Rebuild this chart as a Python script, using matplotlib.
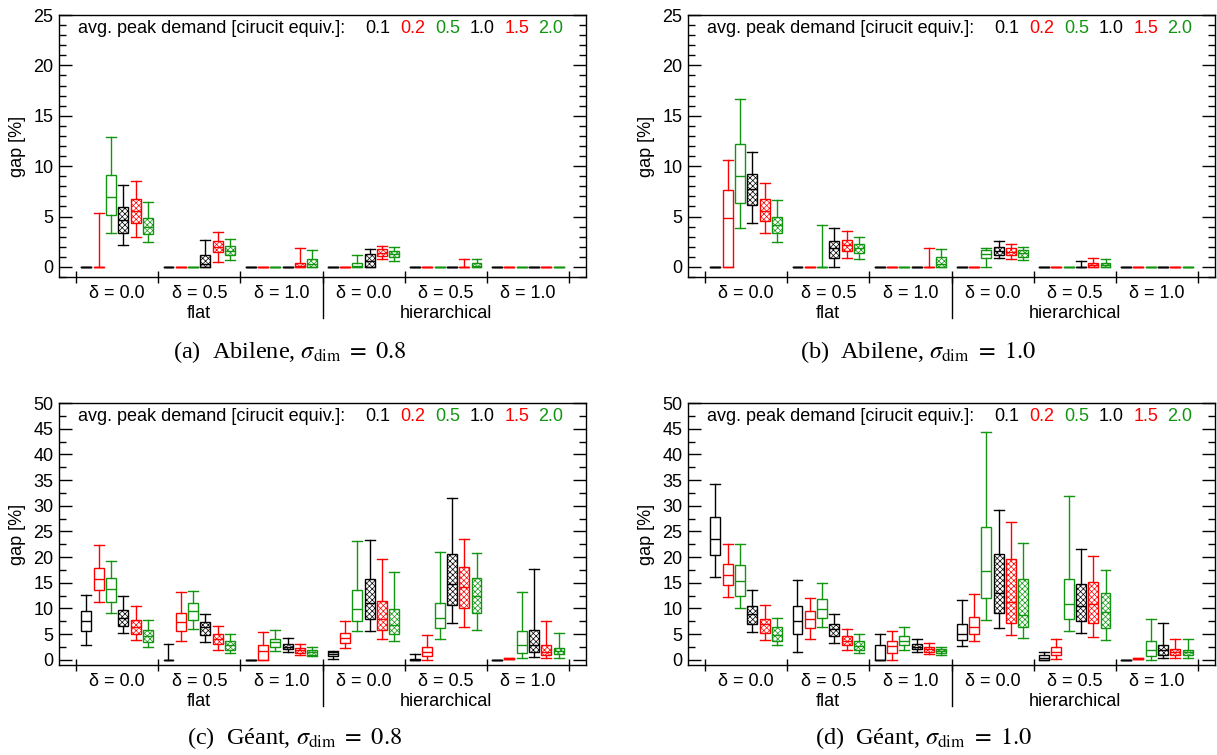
import matplotlib
matplotlib.use('Agg')
import matplotlib.pyplot as plt
from matplotlib import transforms
from matplotlib.ticker import MultipleLocator

plt.rcParams['font.family'] = 'Liberation Sans'
plt.rcParams['mathtext.fontset'] = 'stix'
plt.rcParams['hatch.linewidth'] = 0.5

GREEN = '#129612'
box_colors = ['black', 'red', GREEN, 'black', 'red', GREEN]
hatched = [False, False, False, True, True, True]
demand_labels = ['0.1', '0.2', '0.5', '1.0', '1.5', '2.0']
group_labels = ['δ = 0.0', 'δ = 0.5', 'δ = 1.0'] * 2
section_labels = ['flat', 'hierarchical']

# one row per box: (whisker low, q1, median, q3, whisker high)
# 6 groups (flat d=0/0.5/1, hierarchical d=0/0.5/1) x 6 demands
abilene_08 = [
    (0, 0, 0, 0, 0), (0, 0, 0, 0, 5.4), (3.4, 5.2, 6.9, 9.15, 12.85),
    (2.15, 3.4, 4.65, 5.95, 8.1), (3.0, 4.35, 5.55, 6.7, 8.5), (2.45, 3.25, 4.0, 4.9, 6.4),
    (0, 0, 0, 0, 0), (0, 0, 0, 0, 0), (0, 0, 0, 0, 0),
    (0, 0, 0.3, 1.15, 2.65), (0.5, 1.45, 2.0, 2.6, 3.5), (0.65, 1.15, 1.6, 2.05, 2.8),
    (0, 0, 0, 0, 0), (0, 0, 0, 0, 0), (0, 0, 0, 0, 0),
    (0, 0, 0, 0, 0), (0, 0, 0.1, 0.4, 1.9), (0, 0, 0.3, 0.75, 1.7),
    (0, 0, 0, 0, 0), (0, 0, 0, 0, 0), (0, 0, 0.1, 0.35, 1.2),
    (0, 0, 0.6, 1.25, 1.75), (0.75, 1.1, 1.4, 1.75, 2.1), (0.6, 1.0, 1.3, 1.6, 1.95),
    (0, 0, 0, 0, 0), (0, 0, 0, 0, 0), (0, 0, 0, 0, 0),
    (0, 0, 0, 0, 0), (0, 0, 0, 0, 0.8), (0, 0, 0.1, 0.35, 0.8),
    (0, 0, 0, 0, 0), (0, 0, 0, 0, 0), (0, 0, 0, 0, 0),
    (0, 0, 0, 0, 0), (0, 0, 0, 0, 0), (0, 0, 0, 0, 0),
]

abilene_10 = [
    (0, 0, 0, 0, 0), (0, 0, 4.9, 7.65, 10.6), (3.9, 6.3, 9.0, 12.2, 16.7),
    (4.4, 6.15, 7.75, 9.25, 11.4), (3.4, 4.55, 5.55, 6.7, 8.3), (2.45, 3.4, 4.2, 5.0, 6.6),
    (0, 0, 0, 0, 0), (0, 0, 0, 0, 0), (0, 0, 0, 0, 4.2),
    (0, 0.9, 1.85, 2.6, 3.9), (0.85, 1.6, 2.15, 2.65, 3.6), (0.8, 1.35, 1.85, 2.25, 3.0),
    (0, 0, 0, 0, 0), (0, 0, 0, 0, 0), (0, 0, 0, 0, 0),
    (0, 0, 0, 0, 0), (0, 0, 0, 0, 1.9), (0, 0, 0.3, 1.0, 1.75),
    (0, 0, 0, 0, 0), (0, 0, 0, 0, 0), (0, 0.85, 1.3, 1.65, 1.85),
    (0.85, 1.2, 1.6, 2.0, 2.6), (0.8, 1.15, 1.5, 1.85, 2.3), (0.7, 0.95, 1.35, 1.7, 2.0),
    (0, 0, 0, 0, 0), (0, 0, 0, 0, 0), (0, 0, 0, 0, 0),
    (0, 0, 0, 0, 0.6), (0, 0, 0.15, 0.35, 0.9), (0, 0, 0.15, 0.35, 0.8),
    (0, 0, 0, 0, 0), (0, 0, 0, 0, 0), (0, 0, 0, 0, 0),
    (0, 0, 0, 0, 0), (0, 0, 0, 0, 0), (0, 0, 0, 0, 0),
]

geant_08 = [
    (2.85, 5.6, 7.6, 9.6, 12.55), (11.2, 13.65, 15.8, 17.9, 22.4), (9.2, 11.3, 13.8, 15.9, 19.2),
    (5.2, 6.6, 8.1, 9.8, 12.35), (3.85, 5.0, 6.3, 7.75, 10.4), (2.6, 3.45, 4.55, 5.9, 7.8),
    (0, 0, 0, 0, 3.0), (3.6, 5.6, 7.35, 9.15, 13.25), (6.0, 7.8, 9.5, 11.05, 13.4),
    (3.5, 4.9, 6.3, 7.3, 8.85), (2.0, 3.0, 4.15, 5.0, 6.5), (1.3, 1.95, 2.9, 3.75, 5.0),
    (0, 0, 0, 0, 0), (0, 0, 1.75, 2.9, 5.4), (1.75, 2.6, 3.4, 4.15, 5.9),
    (1.5, 2.1, 2.6, 3.05, 4.3), (1.0, 1.3, 1.9, 2.3, 3.1), (0.7, 1.0, 1.55, 2.0, 2.6),
    (0.25, 0.8, 1.1, 1.45, 1.8), (2.4, 3.25, 4.2, 5.2, 7.6), (5.6, 7.5, 9.95, 13.6, 23.1),
    (5.65, 8.0, 11.05, 15.8, 23.3), (4.15, 5.85, 7.9, 11.5, 19.6), (3.65, 5.0, 6.7, 9.95, 17.2),
    (0, 0, 0, 0.25, 1.05), (0, 0.8, 1.6, 2.6, 4.8), (4.1, 6.2, 8.1, 11.05, 20.9),
    (7.15, 10.65, 14.8, 20.7, 31.5), (6.3, 10.1, 14.2, 18.0, 23.5), (5.8, 9.1, 12.5, 15.9, 20.8),
    (0, 0, 0, 0, 0), (0.1, 0.15, 0.2, 0.3, 0.35), (0.35, 1.25, 2.9, 5.6, 13.2),
    (0.65, 1.6, 2.9, 5.9, 17.75), (0.45, 1.0, 1.6, 2.9, 7.6), (0.45, 1.1, 1.7, 2.35, 5.2),
]

geant_10 = [
    (16.1, 20.5, 23.6, 27.9, 34.3), (12.2, 14.5, 16.6, 18.7, 22.5), (10.0, 12.4, 15.4, 18.4, 22.6),
    (5.45, 6.95, 8.95, 10.5, 13.65), (3.9, 5.2, 6.9, 8.05, 10.65), (2.8, 3.75, 4.75, 6.35, 8.2),
    (1.55, 5.0, 7.65, 10.45, 15.5), (4.15, 6.25, 7.95, 9.55, 12.1), (6.35, 8.15, 9.9, 11.85, 14.95),
    (3.25, 4.55, 6.0, 7.0, 8.85), (1.95, 2.95, 3.75, 4.7, 6.05), (1.35, 1.95, 2.75, 3.65, 5.05),
    (0, 0, 0, 2.8, 5.0), (0, 1.35, 2.75, 3.6, 5.7), (1.95, 2.95, 3.75, 4.55, 6.35),
    (1.6, 2.1, 2.55, 3.05, 4.15), (1.15, 1.55, 2.1, 2.45, 3.25), (0.85, 1.3, 1.75, 2.1, 2.6),
    (2.75, 3.9, 5.0, 6.95, 11.7), (3.7, 5.0, 6.3, 8.25, 12.75), (7.75, 12.0, 17.3, 25.9, 44.3),
    (6.2, 9.05, 13.1, 20.7, 29.1), (4.8, 7.2, 11.2, 19.6, 26.8), (4.35, 6.3, 8.7, 15.7, 22.75),
    (0, 0, 0.45, 0.85, 1.6), (0.25, 0.85, 1.5, 2.45, 4.15), (5.65, 8.05, 10.8, 15.8, 31.8),
    (5.2, 7.55, 10.55, 14.75, 21.65), (4.5, 7.2, 10.85, 15.1, 20.2), (3.95, 6.2, 9.35, 13.05, 17.55),
    (0, 0, 0, 0, 0), (0.1, 0.15, 0.2, 0.3, 0.35), (0, 0.8, 1.9, 3.75, 7.95),
    (0.35, 1.0, 1.9, 2.95, 7.15), (0.35, 1.0, 1.5, 2.1, 4.05), (0.4, 0.9, 1.5, 2.0, 4.05),
]

captions = [r'(a)  Abilene, $\sigma_{\mathrm{dim}}\ =\ 0.8$',
            r'(b)  Abilene, $\sigma_{\mathrm{dim}}\ =\ 1.0$',
            r'(c)  Géant, $\sigma_{\mathrm{dim}}\ =\ 0.8$',
            r'(d)  Géant, $\sigma_{\mathrm{dim}}\ =\ 1.0$']

W, H = 1217, 755
fig = plt.figure(figsize=(W / 100, H / 100), dpi=100)


def draw_panel(left_px, top_px, boxes, ymax, minor_step, caption, caption_x, caption_y):
    ax = fig.add_axes([left_px / W, 1 - (top_px + 262) / H, 527 / W, 262 / H])
    stats = [dict(whislo=b[0], q1=b[1], med=b[2], q3=b[3], whishi=b[4]) for b in boxes]
    positions = [g + 0.5 + (i - 2.5) * 0.15 for g in range(6) for i in range(6)]
    art = ax.bxp(stats, positions=positions, widths=0.12, capwidths=0.12,
                 patch_artist=True, showfliers=False, manage_ticks=False)
    for k, box in enumerate(art['boxes']):
        c = box_colors[k % 6]
        box.set_facecolor('white')
        box.set_edgecolor(c)
        box.set_linewidth(1.0)
        if hatched[k % 6]:
            box.set_hatch('xxxxxx')
        art['medians'][k].set_color(c)
        art['medians'][k].set_linewidth(1.0)
        for ln in art['whiskers'][2 * k:2 * k + 2] + art['caps'][2 * k:2 * k + 2]:
            ln.set_color(c)
            ln.set_linewidth(1.0)

    ax.set_xlim(-0.207, 6.207)
    ax.set_ylim(-1, ymax)
    ax.yaxis.set_major_locator(MultipleLocator(5))
    ax.yaxis.set_minor_locator(MultipleLocator(minor_step))
    ax.tick_params(axis='y', which='both', direction='in', left=True, right=True,
                   labelsize=13, pad=4)
    ax.tick_params(axis='y', which='major', length=9.5, width=1.0)
    ax.tick_params(axis='y', which='minor', length=5, width=1.0)
    ax.set_xticks(range(7))
    ax.tick_params(axis='x', direction='inout', length=8, width=1.0, labelbottom=False)
    for sp in ax.spines.values():
        sp.set_linewidth(1.0)
    ax.set_ylabel('gap [%]', fontsize=13)
    ax.yaxis.set_label_coords(-0.062, 0.5)

    trans = transforms.blended_transform_factory(ax.transData, ax.transAxes)
    ax.plot([3, 3], [0, -0.157], color='black', lw=1.0, transform=trans, clip_on=False)
    for g, lab in enumerate(group_labels):
        ax.text(g + 0.5, -0.062, lab, transform=trans, ha='center', va='center', fontsize=13)
    for s, lab in enumerate(section_labels):
        ax.text(1.5 + 3 * s, -0.14, lab, transform=trans, ha='center', va='center', fontsize=13)

    ax.text(0.036, 0.95, 'avg. peak demand [cirucit equiv.]:', transform=ax.transAxes,
            ha='left', va='center', fontsize=13)
    for xf, lab, c in zip([0.581, 0.647, 0.713, 0.780, 0.846, 0.910], demand_labels, box_colors):
        ax.text(xf, 0.95, lab, transform=ax.transAxes, ha='left', va='center',
                fontsize=13, color=c)

    fig.text(caption_x / W, 1 - caption_y / H, caption, ha='center', va='center',
             fontsize=17.5, family='Liberation Serif')


draw_panel(59, 15, abilene_08, 25, 1, captions[0], 290, 352)
draw_panel(688, 15, abilene_10, 25, 1, captions[1], 918, 352)
draw_panel(59, 403, geant_08, 50, 2.5, captions[2], 295, 738)
draw_panel(688, 403, geant_10, 50, 2.5, captions[3], 924, 738)

fig.savefig('out.png', dpi=100)
